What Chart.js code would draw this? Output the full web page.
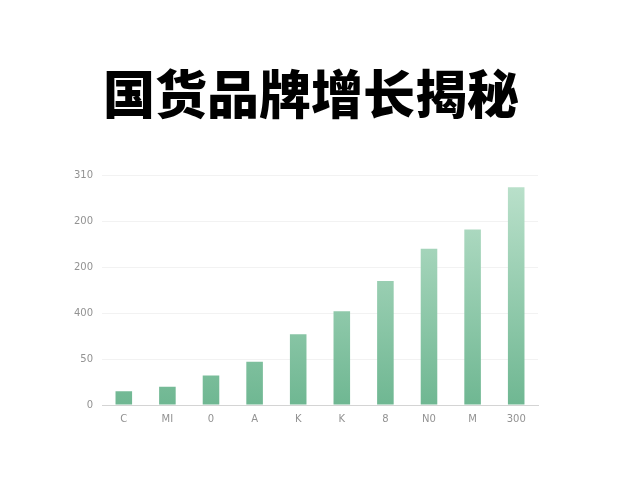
<!DOCTYPE html>
<html>
<head>
<meta charset="utf-8">
<script src="https://cdn.jsdelivr.net/npm/chart.js@4"></script>
<style>
    html, body { margin: 0; padding: 0; background: #ffffff; }
    #box { width: 640px; height: 480px; }
</style>
</head>
<body>
<div id="box"><canvas id="grafico"></canvas></div>
<script>
const titulo = "国货品牌增长揭秘";
const categorias = ["C", "MI", "0", "A", "K", "K", "8", "N0", "M", "300"];
const valores = [15, 20, 32, 47, 77, 102, 135, 170, 191, 237];
const rotulosY = ["0", "50", "400", "200", "200", "310"];

function gradienteBarra(context) {
    const chart = context.chart;
    const area = chart.chartArea;
    if (!area) return "#8cc8a6";
    const g = chart.ctx.createLinearGradient(0, area.top, 0, area.bottom);
    g.addColorStop(0, "#bde2cd");
    g.addColorStop(1, "#6fb792");
    return g;
}

const ctx = document.getElementById("grafico");

new Chart(ctx, {
    type: "bar",
    data: {
        labels: categorias,
        datasets: [{
            data: valores,
            backgroundColor: gradienteBarra,
            borderWidth: 0,
            barPercentage: 0.38,
            categoryPercentage: 1
        }]
    },
    options: {
        responsive: true,
        maintainAspectRatio: false,
        animation: false,
        layout: {
            padding: { left: 60, right: 78, top: 0, bottom: 47 }
        },
        plugins: {
            legend: { display: false },
            tooltip: { enabled: false },
            title: {
                display: true,
                text: titulo,
                color: "#000000",
                font: { family: "'Noto Sans CJK SC', sans-serif", size: 52, weight: "900" },
                padding: { top: 63, bottom: 50 }
            }
        },
        scales: {
            x: {
                grid: { display: false, drawTicks: false },
                border: { color: "#d4d4d4", width: 1 },
                ticks: {
                    color: "#929292",
                    padding: 8,
                    font: { family: "'DejaVu Sans', sans-serif", size: 10 }
                }
            },
            y: {
                min: 0,
                max: 250,
                afterFit: function (scale) { scale.width = 42; },
                grid: { color: "#f2f2f2", drawTicks: false },
                border: { display: false },
                ticks: {
                    stepSize: 50,
                    color: "#929292",
                    padding: 9,
                    font: { family: "'DejaVu Sans', sans-serif", size: 10 },
                    callback: function (value, index) {
                        return rotulosY[index];
                    }
                }
            },
            y2: {
                position: "right",
                min: 0,
                max: 1,
                afterFit: function (scale) { scale.width = 24; },
                grid: { display: false, drawTicks: false },
                border: { display: false },
                ticks: { display: false }
            }
        }
    }
});
</script>
</body>
</html>
